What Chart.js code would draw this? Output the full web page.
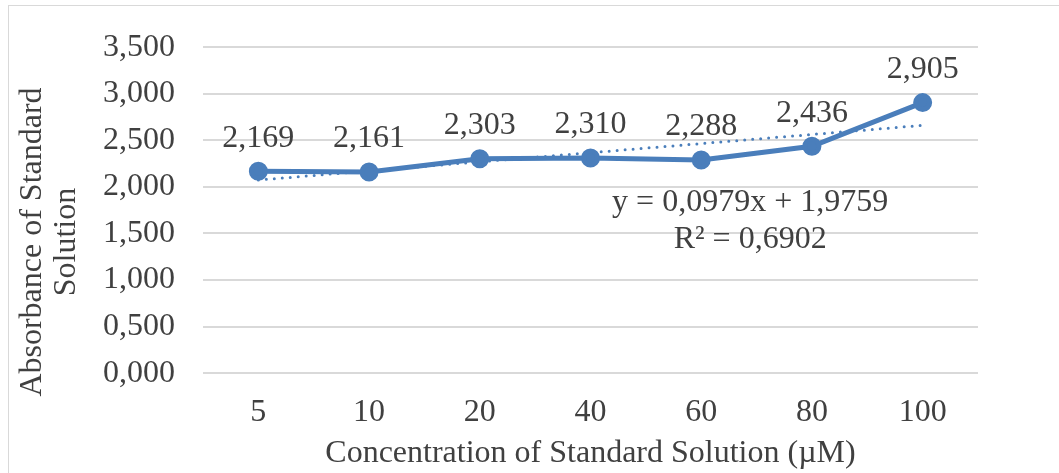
<!DOCTYPE html>
<html>
<head>
<meta charset="utf-8">
<script src="https://cdn.jsdelivr.net/npm/chart.js@4"></script>
<style>
html,body{margin:0;padding:0;background:#fff;overflow:hidden}
#frame{position:absolute;left:8px;top:5px;width:1060px;height:480px;border:1px solid #d9d9d9}
#wrap{position:absolute;left:0;top:0;width:1059px;height:473px}
</style>
</head>
<body>
<div id="frame"></div>
<div id="wrap"><canvas id="absChart"></canvas></div>
<script>

// =========================
// DATA
// =========================

let concentrations=["5","10","20","40","60","80","100"]

let absorbance=[2.169,2.161,2.303,2.310,2.288,2.436,2.905]

// linear trendline at the first and last category
let trendEnds=[2.074,null,null,null,null,null,2.661]

let equationLines=["y = 0,0979x + 1,9759","R² = 0,6902"]

let yTitle=["Absorbance of Standard","Solution"]
let xTitle="Concentration of Standard Solution (µM)"

let serif="'Liberation Serif','Times New Roman',serif"
let textColor="#404040"
let blue="#4a7ebb"
let fontSize=32

function comma(v){
return v.toFixed(3).replace(".",",")
}

// value labels above points, trendline equation, y axis title
let labelPlugin={
id:"labels",
afterDatasetsDraw(chart){
let ctx=chart.ctx
let meta=chart.getDatasetMeta(0)
ctx.save()
ctx.font=fontSize+"px "+serif
ctx.fillStyle=textColor
ctx.textAlign="center"
ctx.textBaseline="middle"
meta.data.forEach(function(pt,i){
ctx.fillText(comma(absorbance[i]),pt.x,pt.y-33)
})
let area=chart.chartArea
let cx=area.left+(area.right-area.left)*0.706
let cy=chart.scales.y.getPixelForValue(1.83)
ctx.fillText(equationLines[0],cx,cy)
ctx.fillText(equationLines[1],cx,cy+37)

// y title sits a bit lower than the plot centre in the original
ctx.translate(33,242)
ctx.rotate(-Math.PI/2)
ctx.fillText(yTitle[0],0,0)
ctx.fillText(yTitle[1],0,34)
ctx.restore()
}
}

new Chart(document.getElementById("absChart"),{

type:"line",

data:{
labels:concentrations,
datasets:[{
label:"Absorbance",
data:absorbance,
borderColor:blue,
backgroundColor:blue,
borderWidth:5,
pointRadius:7,
pointHoverRadius:7,
tension:0
},{
label:"Linear",
data:trendEnds,
spanGaps:true,
borderColor:blue,
borderWidth:3,
borderDash:[0,8],
borderCapStyle:"round",
pointRadius:0,
tension:0
}]
},

options:{
responsive:true,
maintainAspectRatio:false,
animation:false,
layout:{padding:{left:75,right:81,top:30,bottom:0}},
plugins:{
legend:{display:false},
tooltip:{enabled:false}
},
scales:{
x:{
offset:true,
grid:{display:false,drawTicks:false},
border:{display:false},
ticks:{color:textColor,font:{family:serif,size:fontSize},padding:20},
title:{display:true,text:xTitle,color:textColor,font:{family:serif,size:fontSize},padding:{top:-17,bottom:0}}
},
y:{
min:0,
max:3.5,
grid:{color:"#d9d9d9",lineWidth:2,drawTicks:false},
border:{display:false},
ticks:{stepSize:0.5,color:textColor,font:{family:serif,size:fontSize},padding:28,callback:function(v){return comma(v)}}
}
}
},

plugins:[labelPlugin]

})

</script>
</body>
</html>
